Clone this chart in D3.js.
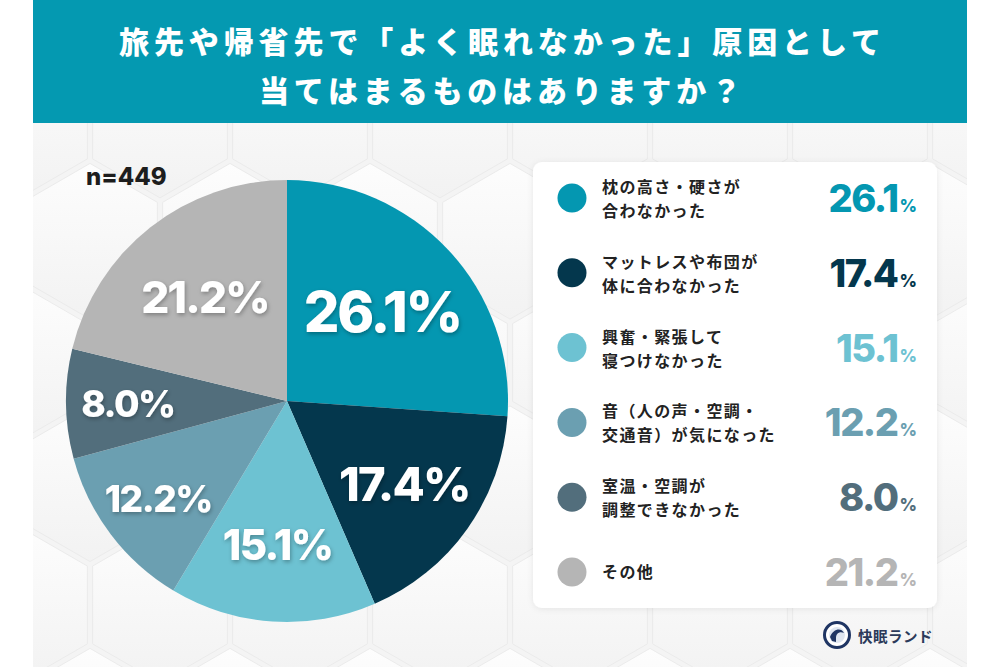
<!DOCTYPE html>
<html><head><meta charset="utf-8">
<script src="https://cdn.jsdelivr.net/npm/d3@7"></script>
<style>
html,body{margin:0;padding:0;background:#fff;}
svg{display:block;}
</style></head>
<body>
<svg id="chart" width="1000" height="667"></svg>
<script>
// ---- data ----
const titleLines = ["旅先や帰省先で「よく眠れなかった」原因として", "当てはまるものはありますか？"];
const sampleLabel = "n=449";
const categories = [
  "枕の高さ・硬さが\n合わなかった",
  "マットレスや布団が\n体に合わなかった",
  "興奮・緊張して\n寝つけなかった",
  "音（人の声・空調・\n交通音）が気になった",
  "室温・空調が\n調整できなかった",
  "その他"
];
const values = [26.1, 17.4, 15.1, 12.2, 8.0, 21.2];
const brand = "快眠ランド";

// ---- styles ----
const colors = ["#0497b1", "#04374d", "#6dc2d2", "#6b9fb1", "#526e7c", "#b5b5b5"];
const labelRadiusFrac = [0.59, 0.65, 0.65, 0.73, 0.72, 0.60];
const labelFontSize = [56, 47, 42, 37, 37, 44];

const svg = d3.select("#chart");
const W = 1000, H = 667;
const numFont = "Inter, 'Open Sans', sans-serif";
const jpFont = "'Noto Sans CJK JP', 'Noto Sans', sans-serif";

const defs = svg.append("defs");
const bgGrad = defs.append("linearGradient").attr("id","hexg").attr("x1",0).attr("y1",0).attr("x2",0).attr("y2",1);
bgGrad.append("stop").attr("offset","0%").attr("stop-color","#fdfdfd");
bgGrad.append("stop").attr("offset","100%").attr("stop-color","#f2f2f2");
const sh = defs.append("filter").attr("id","tshadow").attr("x","-20%").attr("y","-30%").attr("width","140%").attr("height","160%");
sh.append("feDropShadow").attr("dx",1).attr("dy",2).attr("stdDeviation",2).attr("flood-color","#000").attr("flood-opacity",0.3);
const bs = defs.append("filter").attr("id","bshadow").attr("x","-10%").attr("y","-10%").attr("width","120%").attr("height","120%");
bs.append("feDropShadow").attr("dx",0).attr("dy",1).attr("stdDeviation",3).attr("flood-color","#000").attr("flood-opacity",0.08);
const clip = defs.append("clipPath").attr("id","bgclip");
clip.append("rect").attr("x",33).attr("y",123).attr("width",934).attr("height",H-123);

// ---- background ----
svg.append("rect").attr("width",W).attr("height",H).attr("fill","#fff");
const bg = svg.append("g").attr("clip-path","url(#bgclip)");
bg.append("rect").attr("x",33).attr("y",123).attr("width",934).attr("height",H-123).attr("fill","#f4f4f4");
const hw = 140, hs = hw/Math.sqrt(3);
function hexPath(cx, cy, s){
  const pts = d3.range(6).map(i => {
    const a = Math.PI/180*(60*i - 90);
    return [cx + s*Math.cos(a), cy + s*Math.sin(a)];
  });
  return "M" + pts.map(p=>p.join(",")).join("L") + "Z";
}
for (let row = 0; row < 7; row++) {
  for (let col = -1; col < 9; col++) {
    const cx = 20 + col*hw + (row%2 ? hw/2 : 0);
    const cy = 120 + row*hs*1.5;
    bg.append("path").attr("d", hexPath(cx, cy, hs-3))
      .attr("fill","url(#hexg)").attr("stroke","#ebebeb").attr("stroke-width",1);
  }
}

// ---- title bar ----
svg.append("rect").attr("x",33).attr("y",0).attr("width",934).attr("height",123).attr("fill","#0499b1");
const titleWidths = [762, 482];
const titleY = [40, 89];
titleLines.forEach((t,i) => {
  svg.append("text").attr("x",500).attr("y",titleY[i])
    .attr("text-anchor","middle").attr("dominant-baseline","central")
    .attr("font-family",jpFont).attr("font-weight",900).attr("font-size",30)
    .attr("fill","#fff")
    .attr("textLength",titleWidths[i]).attr("lengthAdjust","spacing")
    .text(t);
});

// ---- n label ----
svg.append("text").attr("x",86).attr("y",185)
  .attr("font-family",numFont).attr("font-weight",800).attr("font-size",24)
  .attr("fill","#1d1d1d").text(sampleLabel);

// ---- pie ----
const cx = 287, cy = 401, R = 221;
const pie = d3.pie().sort(null).value(d => d)(values);
const arc = d3.arc().innerRadius(0).outerRadius(R);
const gPie = svg.append("g").attr("transform",`translate(${cx},${cy})`);
gPie.selectAll("path").data(pie).join("path")
  .attr("d",arc).attr("fill",(d,i)=>colors[i]);
const fmt = d3.format(".1f");
gPie.selectAll("text.lbl").data(pie).join("text").attr("class","lbl")
  .each(function(d,i){
    const r = R*labelRadiusFrac[i];
    const c = d3.arc().innerRadius(r).outerRadius(r).centroid(d);
    d3.select(this).attr("x",c[0]).attr("y",c[1]);
  })
  .attr("text-anchor","middle").attr("dominant-baseline","central")
  .attr("font-family",numFont).attr("font-weight",800)
  .attr("font-size",(d,i)=>labelFontSize[i])
  .attr("letter-spacing",(d,i)=>-labelFontSize[i]*0.04)
  .attr("fill","#fff").attr("filter","url(#tshadow)")
  .text(d => fmt(d.data) + "%");

// ---- legend ----
svg.append("rect").attr("x",533).attr("y",162).attr("width",404).attr("height",446)
  .attr("rx",9).attr("fill","#fff").attr("filter","url(#bshadow)");
const ly = d3.scalePoint().domain(d3.range(categories.length)).range([198, 572]);
const lg = svg.append("g");
const items = lg.selectAll("g.item").data(categories).join("g").attr("class","item")
  .attr("transform",(d,i)=>`translate(0,${ly(i)})`);
items.append("circle").attr("cx",572).attr("cy",0).attr("r",14.5).attr("fill",(d,i)=>colors[i]);
items.each(function(d,i){
  const lines = d.split("\n");
  const g = d3.select(this);
  const lt = g.append("text").attr("x",602).attr("y",0)
    .attr("font-family",jpFont).attr("font-weight",700).attr("font-size",16)
    .attr("letter-spacing",1.4).attr("fill","#222");
  if (lines.length === 1) {
    lt.append("tspan").attr("x",602).attr("y",6).text(lines[0]);
  } else {
    lt.append("tspan").attr("x",602).attr("y",-5).text(lines[0]);
    lt.append("tspan").attr("x",602).attr("y",19).text(lines[1]);
  }
  const t = g.append("text").attr("x",917).attr("y",14).attr("text-anchor","end")
    .attr("font-family",numFont).attr("font-weight",800).attr("fill",colors[i]);
  t.append("tspan").attr("font-size",38).attr("letter-spacing",-1.5).text(fmt(values[i]));
  t.append("tspan").attr("font-size",17).attr("dx",2).text("%");
});

// ---- brand logo ----
const logo = svg.append("g").attr("transform","translate(837,635)");
logo.append("circle").attr("r",12.5).attr("fill","#fff").attr("stroke","#1f3563").attr("stroke-width",3);
logo.append("circle").attr("r",8).attr("fill","#dfe6f0");
logo.append("path").attr("d","M-7,2 C-4,-6 4,-8 7,-2 C3,-4 -1,-2 -1,3 L-1,7 L-5,6 Z").attr("fill","#1f3563");
svg.append("text").attr("x",858).attr("y",635).attr("dominant-baseline","central")
  .attr("font-family",jpFont).attr("font-weight",700).attr("font-size",14.5)
  .attr("letter-spacing",0.5).attr("fill","#2b3a5a").text(brand);
</script>
</body></html>
